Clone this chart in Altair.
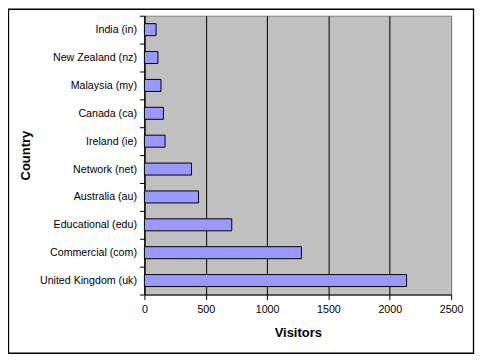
import altair as alt
import pandas as pd

countries = ["India (in)", "New Zealand (nz)", "Malaysia (my)", "Canada (ca)",
             "Ireland (ie)", "Network (net)", "Australia (au)", "Educational (edu)",
             "Commercial (com)", "United Kingdom (uk)"]
visitors = [95, 110, 135, 155, 168, 384, 441, 712, 1280, 2137]

df = pd.DataFrame({"Country": countries, "Visitors": visitors})

FONT = "Liberation Sans"

bars = alt.Chart(df).mark_bar(
    color="#9999FF", stroke="black", strokeWidth=1,
    height=alt.RelativeBandSize(0.43)
).encode(
    x=alt.X("Visitors:Q",
            scale=alt.Scale(domain=[0, 2500], nice=False),
            axis=alt.Axis(values=[0, 500, 1000, 1500, 2000, 2500], format="d",
                          labelFlush=False,
                          grid=True,
                          gridColor={"condition": {"test": "datum.value >= 2500", "value": "#808080"},
                                     "value": "black"},
                          gridWidth=1, gridOpacity=1,
                          domainColor="black", tickColor="black", tickSize=5,
                          labelFont=FONT, labelFontSize=10.7, labelColor="black",
                          labelPadding=5, titleFont=FONT, titleFontSize=13,
                          titleFontWeight="bold", titleColor="black", titlePadding=12)),
    y=alt.Y("Country:N", sort=None,
            scale=alt.Scale(paddingInner=0, paddingOuter=0),
            axis=alt.Axis(tickBand="extent", domainColor="black", tickColor="black",
                          tickSize=5, labelFont=FONT, labelFontSize=10.7, labelColor="black",
                          labelPadding=3, titleFont=FONT, titleFontSize=13,
                          titleFontWeight="bold", titleColor="black", titlePadding=7)),
)

border = alt.Chart(pd.DataFrame({"a": [0]})).mark_rect(
    filled=False, stroke="black", strokeWidth=1.3
).encode(
    x=alt.value(-136.5), x2=alt.value(330.5),
    y=alt.value(-6.5), y2=alt.value(339),
)

chart = alt.layer(border, bars).properties(
    width=308, height=280,
    autosize=alt.AutoSizeParams(type="none"),
    padding={"left": 137, "top": 7, "right": 24, "bottom": 61},
    background="white",
).configure_view(
    fill="#C0C0C0", stroke="#808080", strokeWidth=1
)

chart.save("out.html", embed_options={"renderer": "svg", "actions": False})
